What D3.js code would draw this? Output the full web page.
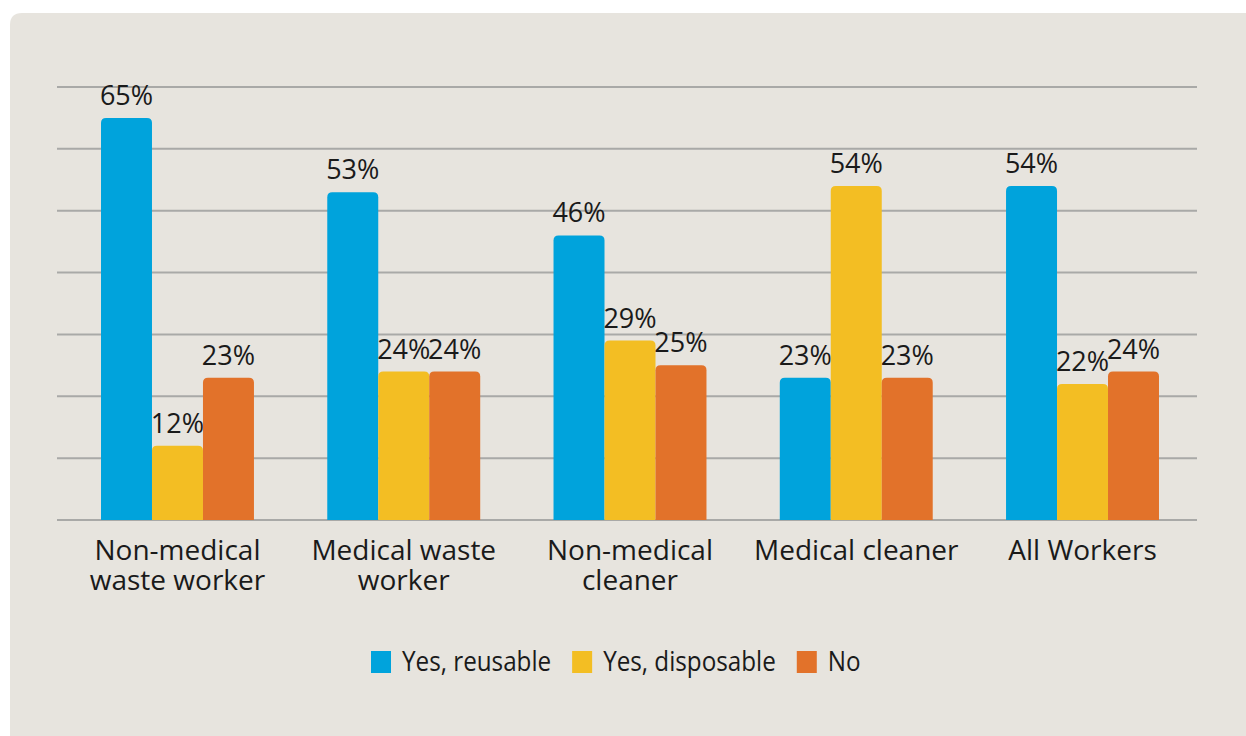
<!DOCTYPE html>
<html>
<head>
<meta charset="utf-8">
<script src="https://cdn.jsdelivr.net/npm/d3@7/dist/d3.min.js"></script>
<style>
  html, body { margin: 0; padding: 0; background: #ffffff; }
  svg { display: block; }
  text { font-family: "Open Sans", "Noto Sans", sans-serif; fill: #1a1a1a; }
</style>
</head>
<body>
<svg id="chart" width="1246" height="736"></svg>
<script>
const categories = [
  ["Non-medical", "waste worker"],
  ["Medical waste", "worker"],
  ["Non-medical", "cleaner"],
  ["Medical cleaner"],
  ["All Workers"]
];
const seriesNames = ["Yes, reusable", "Yes, disposable", "No"];
const reusable   = [65, 53, 46, 23, 54];
const disposable = [12, 24, 29, 54, 22];
const noMask     = [23, 24, 25, 23, 24];
const yTicks = [0, 10, 20, 30, 40, 50, 60, 70];
const colors = ["#00a3dc", "#f3be23", "#e2722a"];

const series = [reusable, disposable, noMask];
const svg = d3.select("#chart");

// panel
svg.append("path")
  .attr("d", "M10,1000 L10,25 Q10,13 22,13 L1300,13 L1300,1000 Z")
  .attr("fill", "#e7e4de");

const y = d3.scaleLinear().domain([0, 70]).range([520, 87]);
const x0 = d3.scaleBand().domain(d3.range(categories.length))
  .range([57, 1203]).paddingInner(0.324).paddingOuter(0.1945);
const x1 = d3.scaleBand().domain(d3.range(series.length))
  .range([0, x0.bandwidth()]);

// gridlines
svg.append("g").selectAll("line").data(yTicks).join("line")
  .attr("x1", 57).attr("x2", 1197)
  .attr("y1", d => y(d)).attr("y2", d => y(d))
  .attr("stroke", "#a9a9a7").attr("stroke-width", 2);

function topRounded(x, yTop, w, h, r) {
  r = Math.min(r, h, w / 2);
  return `M${x},${yTop + h} L${x},${yTop + r} Q${x},${yTop} ${x + r},${yTop} L${x + w - r},${yTop} Q${x + w},${yTop} ${x + w},${yTop + r} L${x + w},${yTop + h} Z`;
}

const groups = svg.append("g").selectAll("g").data(categories).join("g")
  .attr("transform", (d, i) => `translate(${x0(i)},0)`);

groups.each(function(cat, ci) {
  const g = d3.select(this);
  series.forEach((s, si) => {
    const v = s[ci];
    const bx = x1(si), bw = x1.bandwidth();
    g.append("path")
      .attr("d", topRounded(bx, y(v), bw, y(0) - y(v), 5))
      .attr("fill", colors[si]);
    g.append("text")
      .attr("x", bx + bw / 2).attr("y", y(v) - 13)
      .attr("text-anchor", "middle")
      .attr("font-size", 27)
      .text(v + "%");
  });
  const t = g.append("text")
    .attr("text-anchor", "middle")
    .attr("font-size", 28);
  cat.forEach((line, li) => {
    t.append("tspan").attr("x", x0.bandwidth() / 2).attr("y", 560 + li * 30).text(line);
  });
});

// legend (condensed face: compress glyphs horizontally)
const legend = svg.append("g");
let lx = 371;
seriesNames.forEach((name, i) => {
  legend.append("rect").attr("x", lx).attr("y", 651).attr("width", 20).attr("height", 22)
    .attr("fill", colors[i]);
  const t = legend.append("text").attr("x", lx + 31).attr("y", 671)
    .attr("font-size", 28).text(name);
  const natural = t.node().getComputedTextLength();
  const w = natural * 0.865;
  t.attr("textLength", w).attr("lengthAdjust", "spacingAndGlyphs");
  lx = lx + 31 + w + 21;
});
</script>
</body>
</html>
